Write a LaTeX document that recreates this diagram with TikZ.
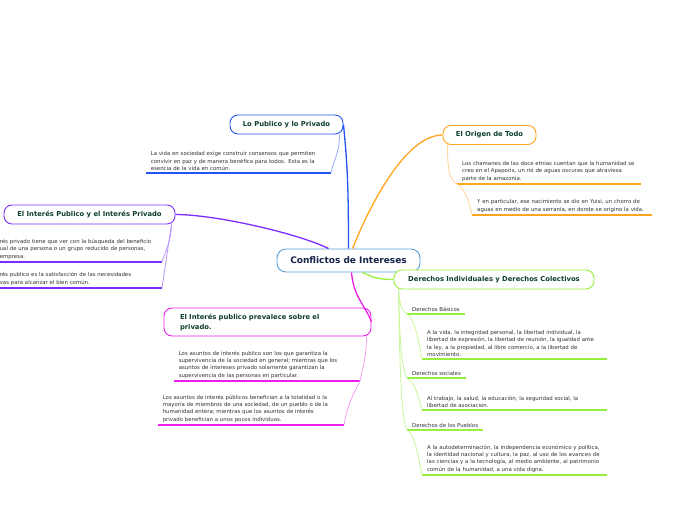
\documentclass[tikz,border=0pt]{standalone}
\usepackage{fontspec}
\setmainfont{DejaVu Sans}
\usetikzlibrary{positioning}
\definecolor{mmroot}{RGB}{90,160,220}
\definecolor{mmnavy}{RGB}{22,34,72}
\definecolor{mmdark}{RGB}{14,62,46}
\definecolor{mmtext}{RGB}{50,50,50}
\definecolor{mmblue}{RGB}{35,85,240}
\definecolor{mmbluel}{RGB}{150,170,250}
\definecolor{mmorange}{RGB}{255,165,30}
\definecolor{mmorangel}{RGB}{255,210,150}
\definecolor{mmpurple}{RGB}{125,45,255}
\definecolor{mmpurplel}{RGB}{185,150,255}
\definecolor{mmmagenta}{RGB}{235,30,235}
\definecolor{mmmagental}{RGB}{245,160,245}
\definecolor{mmgreen}{RGB}{150,240,60}
\definecolor{mmgreenl}{RGB}{200,245,150}

\begin{document}
\begin{tikzpicture}[x=1pt, y=-1pt,
  root/.style={draw=mmroot, fill=white, rounded corners=9pt, line width=0.9pt, minimum width=143pt, minimum height=23pt, inner sep=0pt, font=\fontsize{9}{11}\selectfont\bfseries, text=mmnavy},
  topic/.style={draw=#1, fill=white, rounded corners=8pt, line width=0.9pt, minimum height=19pt, inner sep=0pt, font=\fontsize{6.8}{10}\selectfont\bfseries, text=mmdark},
  note/.style={align=left, inner xsep=5pt, inner ysep=2.5pt, text width=#1, font=\fontsize{5.4}{7.2}\selectfont, text=mmtext},
  leaf/.style={inner xsep=5pt, inner ysep=2.5pt, font=\fontsize{5.4}{7.2}\selectfont, text=mmtext},
  branch/.style={draw=#1, line width=1.3pt},
  uline/.style={draw=#1, line width=1.2pt},
  twig/.style={draw=#1, line width=0.8pt}]
\useasboundingbox (0,0) rectangle (696,520);
% central topic
\node[root] (root) at (348.5,260.5) {Conflictos de Intereses};
% main topics
\node[topic=mmblue, minimum width=113pt] (lopub) at (286.5,124.5) {Lo Publico y lo Privado};
\node[topic=mmorange, minimum width=93pt] (origen) at (489.5,135) {El Origen de Todo};
\node[topic=mmpurple, minimum width=171pt] (intpub) at (89.5,214.5) {El Interés Publico y el Interés Privado};
\node[topic=mmmagenta, minimum width=207pt, minimum height=28pt, text width=175pt, align=left, font=\fontsize{6.8}{10}\selectfont\bfseries] (prev) at (267.5,322) {El Interés publico prevalece sobre el\\privado.};
\node[topic=mmgreen, minimum width=200pt] (derechos) at (494,279.5) {Derechos Individuales y Derechos Colectivos};
% branches
\draw[branch=mmblue] (root.north) .. controls +(0,-60) and +(4,40) .. (lopub.east);
\draw[branch=mmorange] ([xshift=4pt]root.north) .. controls +(20,-50) and +(-35,0) .. (origen.west);
\draw[branch=mmpurple] ([xshift=-20pt]root.north) .. controls +(-30,-15) and +(40,0) .. (intpub.east);
\draw[branch=mmmagenta] ([xshift=3pt]root.south) .. controls +(2,25) and +(-5,-15) .. (prev.east);
\draw[branch=mmgreen] ([xshift=14pt]root.south) .. controls +(12,6) and +(-12,0) .. (derechos.west);

% Lo Publico y lo Privado
\node[note=175pt, anchor=south east] (pubtxt) at (331,173) {La vida en sociedad exige construir consensos que permiten\\convivir en paz y de manera benéfica para todos. Esta es la\\esencia de la vida en común.};
\draw[uline=mmblue] (pubtxt.south west) -- (pubtxt.south east);
\draw[twig=mmbluel] ([xshift=-4pt]lopub.south east) .. controls +(0,20) and +(3,-15) .. (pubtxt.south east);

% El Origen de Todo
\node[note=174pt, anchor=south west] (orig1) at (457,184) {Los chamanes de las doce etnias cuentan que la humanidad se\\creo en el Apaporis, un rió de aguas oscuras que atraviesa\\parte de la amazonia.};
\node[note=170pt, anchor=south west] (orig2) at (472,215) {Y en particular, ese nacimiento se dio en Yuisi, un chorro de\\aguas en medio de una serranía, en donde se origino la vida.};
\draw[uline=mmorange] (orig1.south west) -- (orig1.south east);
\draw[uline=mmorange] (orig2.south west) -- (orig2.south east);
\draw[twig=mmorangel] ([xshift=5pt]origen.south west) .. controls +(0,25) and +(-8,-5) .. (orig1.south west);
\draw[twig=mmorangel] (orig1.south west) .. controls +(8,5) and +(-3,-15) .. (orig2.south west);

% El Interes Publico y el Interes Privado
\node[note=162pt, inner xsep=0pt, anchor=south east] (priv) at (162,262) {rés privado tiene que ver con la búsqueda del beneficio\\ual de una persona o un grupo reducido de personas,\\empresa.};
\node[note=162pt, inner xsep=0pt, anchor=south east] (publ) at (162,288) {rés publico es la satisfacción de las necesidades\\vas para alcanzar el bien común.};
\draw[uline=mmpurple] (priv.south west) -- (priv.south east);
\draw[uline=mmpurple] (publ.south west) -- (publ.south east);
\draw[twig=mmpurplel] ([xshift=-4pt]intpub.south east) .. controls +(0,15) and +(4,-12) .. (priv.south east);
\draw[twig=mmpurplel] ([xshift=-4pt]intpub.south east) .. controls +(-3,20) and +(3,-20) .. (publ.south east);

% El Interes publico prevalece sobre el privado
\node[note=176pt, anchor=south east] (prev1) at (360,381) {Los asuntos de interés publico son los que garantiza la\\supervivencia de la sociedad en general; mientras que los\\asuntos de intereses privado solamente garantizan la\\supervivencia de las personas en particular.};
\node[note=176pt, anchor=south east] (prev2) at (344,425) {Los asuntos de interés públicos benefician a la totalidad o la\\mayoría de miembros de una sociedad, de un pueblo o de la\\humanidad entera; mientras que los asuntos de interés\\privado benefician a unos pocos individuos.};
\draw[uline=mmmagenta] (prev1.south west) -- (prev1.south east);
\draw[uline=mmmagenta] (prev2.south west) -- (prev2.south east);
\draw[twig=mmmagental] ([xshift=-5pt]prev.south east) .. controls +(0,20) and +(3,-15) .. (prev1.south east);
\draw[twig=mmmagental] (prev1.south east) .. controls +(-5,10) and +(3,-20) .. (prev2.south east);

% Derechos Individuales y Derechos Colectivos
\node[leaf, anchor=south west] (basicos) at (407,314) {Derechos Básicos};
\node[leaf, anchor=south west] (sociales) at (407,378) {Derechos sociales};
\node[leaf, anchor=south west] (pueblos) at (407,430) {Derechos de los Pueblos};
\node[note=175pt, anchor=south west] (bastxt) at (422,359) {A la vida, la integridad personal, la libertad individual, la\\libertad de expresión, la libertad de reunión, la igualdad ante\\la ley, a la propiedad, al libre comercio, a la libertad de\\movimiento.};
\node[note=175pt, anchor=south west] (soctxt) at (422,410) {Al trabajo, la salud, la educación, la seguridad social, la\\libertad de asociacion.};
\node[note=175pt, anchor=south west] (puetxt) at (422,475) {A la autodeterminación, la independencia económico y política,\\la identidad nacional y cultura, la paz, al uso de los avances de\\las ciencias y a la tecnología, al medio ambiente, al patrimonio\\común de la humanidad, a una vida digna.};
\foreach \n in {basicos,sociales,pueblos,bastxt,soctxt,puetxt}
  \draw[uline=mmgreen] (\n.south west) -- (\n.south east);
\draw[twig=mmgreenl] ([xshift=5pt]derechos.south west) .. controls +(1,15) and +(-6,-5) .. (basicos.south west);
\draw[twig=mmgreenl] ([xshift=5pt]derechos.south west) .. controls +(1,45) and +(-6,-10) .. (sociales.south west);
\draw[twig=mmgreenl] ([xshift=5pt]derechos.south west) .. controls +(1,70) and +(-6,-10) .. (pueblos.south west);
\draw[twig=mmgreenl] (basicos.south west) .. controls +(8,5) and +(-4,-20) .. (bastxt.south west);
\draw[twig=mmgreenl] (sociales.south west) .. controls +(8,5) and +(-4,-15) .. (soctxt.south west);
\draw[twig=mmgreenl] (pueblos.south west) .. controls +(8,5) and +(-4,-20) .. (puetxt.south west);
\end{tikzpicture}
\end{document}
